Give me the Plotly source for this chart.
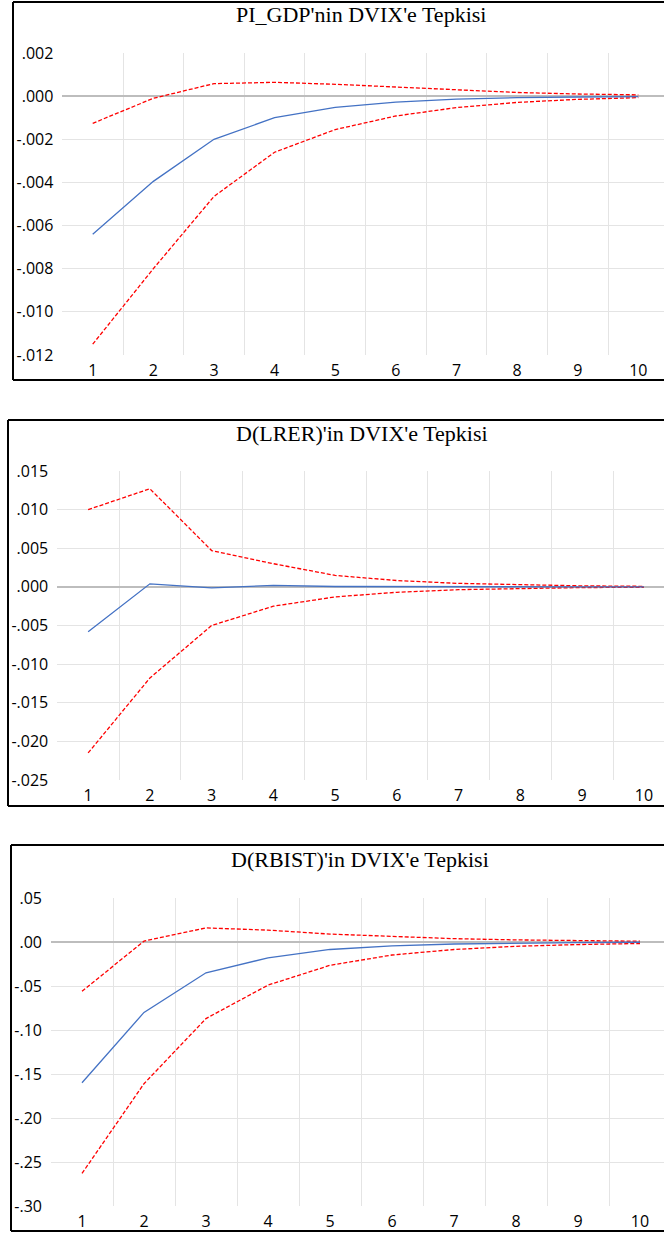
import plotly.graph_objects as go

W, H = 664, 1233

periods = [1, 2, 3, 4, 5, 6, 7, 8, 9, 10]

# Panel 1: PI_GDP
pi_title = "PI_GDP'nin DVIX'e Tepkisi"
pi_resp = [-0.0064, -0.00395, -0.0020, -0.00100, -0.00052, -0.00028, -0.00014, -0.00007, -0.00004, -0.00002]
pi_upper = [-0.00126, -0.0001, 0.00058, 0.00064, 0.00055, 0.00043, 0.00028, 0.00017, 0.00010, 0.00006]
pi_lower = [-0.0115, -0.0080, -0.00465, -0.0026, -0.00155, -0.00092, -0.00053, -0.00029, -0.00015, -0.00007]
pi_yticks = [0.002, 0.0, -0.002, -0.004, -0.006, -0.008, -0.010, -0.012]
pi_ylabels = [".002", ".000", "-.002", "-.004", "-.006", "-.008", "-.010", "-.012"]

# Panel 2: D(LRER)
lr_title = "D(LRER)'in DVIX'e Tepkisi"
lr_resp = [-0.0058, 0.0004, -0.00013, 0.0002, 0.00005, 0.00002, 0.00001, 0.0, 0.0, 0.0]
lr_upper = [0.0100, 0.0127, 0.0047, 0.0030, 0.00148, 0.00082, 0.00045, 0.00025, 0.00013, 0.00007]
lr_lower = [-0.0215, -0.0118, -0.0050, -0.0025, -0.0013, -0.0007, -0.00036, -0.00018, -0.00009, -0.00005]
lr_yticks = [0.015, 0.010, 0.005, 0.0, -0.005, -0.010, -0.015, -0.020, -0.025]
lr_ylabels = [".015", ".010", ".005", ".000", "-.005", "-.010", "-.015", "-.020", "-.025"]

# Panel 3: D(RBIST)
rb_title = "D(RBIST)'in DVIX'e Tepkisi"
rb_resp = [-0.160, -0.080, -0.035, -0.018, -0.0085, -0.0045, -0.0023, -0.0012, -0.0006, -0.0003]
rb_upper = [-0.056, 0.001, 0.016, 0.0135, 0.009, 0.006, 0.0038, 0.0024, 0.0015, 0.0009]
rb_lower = [-0.263, -0.161, -0.087, -0.049, -0.0265, -0.0148, -0.0085, -0.0049, -0.0029, -0.0017]
rb_yticks = [0.05, 0.0, -0.05, -0.10, -0.15, -0.20, -0.25, -0.30]
rb_ylabels = [".05", ".00", "-.05", "-.10", "-.15", "-.20", "-.25", "-.30"]

panels = [
    dict(title=pi_title, resp=pi_resp, upper=pi_upper, lower=pi_lower,
         yticks=pi_yticks, ylabels=pi_ylabels,
         box=(13, 2, 380), plot_x0=62.4, step=60.625, plot_top=53, plot_bot=355,
         title_xy=(361, 15)),
    dict(title=lr_title, resp=lr_resp, upper=lr_upper, lower=lr_lower,
         yticks=lr_yticks, ylabels=lr_ylabels,
         box=(8, 420, 806), plot_x0=57.25, step=61.75, plot_top=471, plot_bot=780,
         title_xy=(362, 433)),
    dict(title=rb_title, resp=rb_resp, upper=rb_upper, lower=rb_lower,
         yticks=rb_yticks, ylabels=rb_ylabels,
         box=(11, 845, 1231), plot_x0=51, step=62, plot_top=898, plot_bot=1206,
         title_xy=(360, 859)),
]

BLUE = "#4472C4"
RED = "#FF0000"
GRID = "#e4e4e4"
ZERO = "#bdbdbd"
TICKFONT = dict(family="Open Sans", size=16, color="#000000")

fig = go.Figure()
layout = dict(width=W, height=H, margin=dict(l=0, r=0, t=0, b=0),
              paper_bgcolor="white", plot_bgcolor="white", showlegend=False)
shapes = []
annotations = []

for i, p in enumerate(panels):
    n = "" if i == 0 else str(i + 1)
    xa, ya = "x" + n, "y" + n
    for series, color, dash in ((p["upper"], RED, "4px,2px"),
                                (p["lower"], RED, "4px,2px"),
                                (p["resp"], BLUE, "solid")):
        fig.add_trace(go.Scatter(x=periods, y=series, mode="lines", xaxis=xa, yaxis=ya,
                                 line=dict(color=color, width=1.3, dash=dash),
                                 hoverinfo="skip"))
    x_end = 0.5 + (W - p["plot_x0"]) / p["step"]
    layout["xaxis" + n] = dict(
        domain=[p["plot_x0"] / W, 1], range=[0.5, x_end], anchor=ya,
        tickvals=periods, ticktext=[str(v) for v in periods],
        showgrid=False, zeroline=False, showline=False, ticks="",
        tickfont=TICKFONT, ticklabelstandoff=4, automargin=False, fixedrange=True,
        minor=dict(tickvals=[v + 0.5 for v in periods[:-1]], showgrid=True,
                   gridcolor=GRID, gridwidth=1, ticks=""),
    )
    layout["yaxis" + n] = dict(
        domain=[1 - p["plot_bot"] / H, 1 - p["plot_top"] / H],
        range=[min(p["yticks"]), max(p["yticks"])], anchor=xa,
        tickvals=p["yticks"], ticktext=p["ylabels"],
        showgrid=False, zeroline=True, zerolinecolor=ZERO, zerolinewidth=1.5,
        showline=False, ticks="", tickfont=TICKFONT, ticklabelstandoff=8,
        automargin=False, fixedrange=True,
        minor=dict(tickvals=p["yticks"][1:-1], showgrid=True,
                   gridcolor=GRID, gridwidth=1, ticks=""),
    )
    bx, bt, bb = p["box"]
    for (x0, y0, x1, y1) in ((bx, bt, bx, bb), (bx, bt, W + 5, bt), (bx, bb, W + 5, bb)):
        shapes.append(dict(type="line", xref="paper", yref="paper",
                           x0=x0 / W, x1=x1 / W, y0=1 - y0 / H, y1=1 - y1 / H,
                           line=dict(color="black", width=2)))
    tx, ty = p["title_xy"]
    annotations.append(dict(text=p["title"], xref="paper", yref="paper",
                            x=tx / W, y=1 - ty / H, xanchor="center", yanchor="middle",
                            showarrow=False,
                            font=dict(family="Liberation Serif", size=22, color="#000000")))

layout["shapes"] = shapes
layout["annotations"] = annotations
fig.update_layout(**layout)
fig.write_html("out.html", config={"displayModeBar": False},
               post_script="document.body.style.margin='0';document.body.style.padding='0';"
                           "document.body.style.overflow='hidden';")
